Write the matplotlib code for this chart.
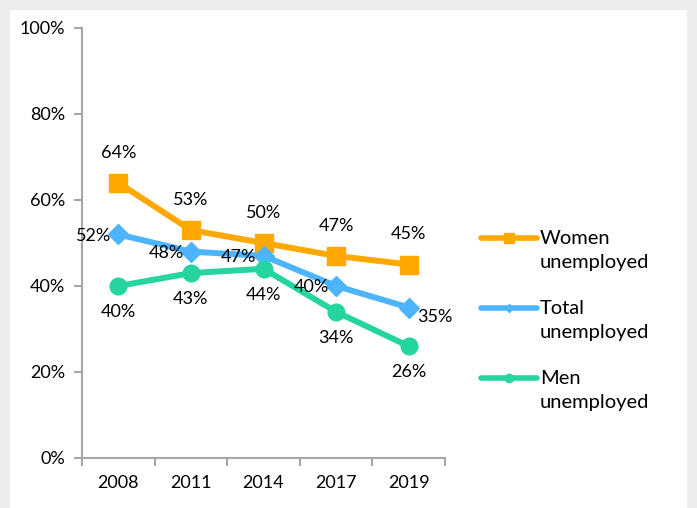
import matplotlib.pyplot as plt
from matplotlib.lines import Line2D
from matplotlib.patches import Rectangle
import numpy as np

years = ['2008', '2011', '2014', '2017', '2019']
women = [64, 53, 50, 47, 45]
total = [52, 48, 47, 40, 35]
men = [40, 43, 44, 34, 26]

series_names = ['Women\nunemployed', 'Total\nunemployed', 'Men\nunemployed']

c_women = '#FFA800'
c_total = '#4DB4FF'
c_men = '#26D4A0'

plt.rcParams['font.family'] = ['Lato', 'DejaVu Sans']
plt.rcParams['font.size'] = 13

W, H = 697, 508
fig = plt.figure(figsize=(W / 100, H / 100), dpi=100)
fig.patch.set_facecolor('#ececec')
# white card inside the gray frame
fig.add_artist(Rectangle((10 / W, 0), 677 / W, 498 / H, transform=fig.transFigure,
                         facecolor='white', edgecolor='none', zorder=-10))

ax = fig.add_axes([82 / W, 50 / H, 363 / W, 430 / H])
ax.set_facecolor('none')

x = np.arange(len(years))
ax.plot(x, women, color=c_women, lw=4.3, marker='s', ms=13, zorder=3)
ax.plot(x, total, color=c_total, lw=4.3, marker='D', ms=10, zorder=3)
ax.plot(x, men, color=c_men, lw=4.3, marker='o', ms=12, zorder=3)

# data labels
for i, v in enumerate(women):
    ax.annotate(f'{v}%', (x[i], v), xytext=(0, 16), textcoords='offset points',
                ha='center', va='bottom')
for i, v in enumerate(total):
    if i == len(total) - 1:
        ax.annotate(f'{v}%', (x[i], v), xytext=(6, -1), textcoords='offset points',
                    ha='left', va='top')
    else:
        ax.annotate(f'{v}%', (x[i], v), xytext=(-5, -1), textcoords='offset points',
                    ha='right', va='center')
for i, v in enumerate(men):
    ax.annotate(f'{v}%', (x[i], v), xytext=(0, -13), textcoords='offset points',
                ha='center', va='top')

ax.set_xlim(-0.5, len(years) - 0.5)
ax.set_ylim(0, 100)
yt = [0, 20, 40, 60, 80, 100]
ax.set_yticks(yt)
ax.set_yticklabels([f'{t}%' for t in yt])
ax.set_xticks(x)
ax.set_xticklabels(years)
ax.set_xticks(np.arange(-0.5, len(years), 1.0), minor=True)
ax.tick_params(axis='x', which='major', length=0, pad=12)
ax.tick_params(axis='x', which='minor', length=6, width=1.5, color='#a6a6a6', direction='out')
ax.tick_params(axis='y', length=6, width=1.5, color='#a6a6a6', direction='out', pad=6)
for s in ['top', 'right']:
    ax.spines[s].set_visible(False)
for s in ['left', 'bottom']:
    ax.spines[s].set_color('#a6a6a6')
    ax.spines[s].set_linewidth(1.5)

# legend drawn by hand so the key line sits on the first text line
leg_style = [(c_women, 's', 7), (c_total, 'D', 4), (c_men, 'o', 6)]
for k, (name, (col, mk, msz)) in enumerate(zip(series_names, leg_style)):
    yy = 1 - (238 + 70 * k) / H
    fig.add_artist(Line2D([481 / W, 537 / W], [yy, yy], transform=fig.transFigure,
                          color=col, lw=4, solid_capstyle='round'))
    fig.add_artist(Line2D([509 / W], [yy], transform=fig.transFigure,
                          color=col, marker=mk, ms=msz, lw=0))
    fig.text(540 / W, yy + 8 / H, name, ha='left', va='top', fontsize=14.5,
             linespacing=1.5)

fig.savefig('out.png', dpi=100, facecolor=fig.get_facecolor())
